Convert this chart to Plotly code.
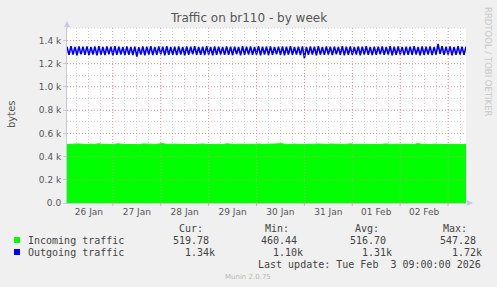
import pandas as pd
import plotly.graph_objects as go

# ---------------- data ----------------
start_time = "2026-01-26 01:00"
end_time = "2026-02-03 09:00"

outgoing = [
    1347, 1276, 1351, 1279, 1345, 1273, 1349, 1281, 1346, 1277,
    1350, 1274, 1344, 1280, 1348, 1272, 1352, 1278, 1345, 1275,
    1349, 1282, 1346, 1273, 1351, 1277, 1347, 1279, 1344, 1274,
    1350, 1278, 1345, 1275, 1348, 1262, 1343, 1280, 1349, 1273,
    1346, 1279, 1352, 1274, 1345, 1277, 1349, 1281, 1347, 1272,
    1351, 1276, 1344, 1278, 1348, 1274, 1350, 1280, 1345, 1273,
    1349, 1277, 1346, 1281, 1351, 1276, 1344, 1278, 1348, 1274,
    1352, 1279, 1345, 1273, 1349, 1277, 1347, 1280, 1344, 1276,
    1350, 1278, 1346, 1274, 1348, 1281, 1345, 1272, 1351, 1277,
    1347, 1279, 1349, 1276, 1344, 1278, 1352, 1273, 1346, 1280,
    1348, 1274, 1350, 1277, 1345, 1281, 1347, 1276, 1349, 1273,
    1346, 1278, 1351, 1276, 1344, 1279, 1348, 1274, 1350, 1248,
    1345, 1277, 1349, 1280, 1347, 1273, 1352, 1278, 1344, 1276,
    1350, 1279, 1346, 1274, 1348, 1281, 1345, 1277, 1351, 1272,
    1347, 1278, 1349, 1276, 1344, 1280, 1350, 1273, 1346, 1279,
    1352, 1277, 1345, 1274, 1348, 1278, 1347, 1281, 1349, 1276,
    1344, 1279, 1351, 1273, 1346, 1277, 1350, 1280, 1345, 1274,
    1348, 1278, 1347, 1276, 1352, 1279, 1344, 1273, 1349, 1277,
    1346, 1280, 1350, 1274, 1345, 1278, 1372, 1284, 1351, 1276,
    1347, 1279, 1349, 1273, 1345, 1277, 1351, 1278, 1346, 1276,
    1348,
]

incoming = [
    505, 507, 504, 509, 506, 503, 508, 505, 511, 504,
    506, 503, 507, 510, 505, 504, 508, 506, 503, 509,
    505, 507, 504, 506, 512, 505, 503, 507, 506, 504,
    508, 505, 503, 506, 509, 504, 507, 505, 506, 503,
    510, 505, 504, 507, 506, 508, 503, 505, 509, 504,
    506, 507, 504, 505, 511, 503, 506, 508, 505, 504,
    507, 503, 506, 509, 505, 504, 508, 506, 503, 507,
    505, 510, 504, 506, 505, 503, 508, 507, 504, 506,
    509, 505, 503, 507, 506, 504, 508, 505, 512, 504,
    506, 503, 507, 505, 509, 504, 506, 508, 505, 503,
    507,
]

y_tick_vals = [0, 200, 400, 600, 800, 1000, 1200, 1400]
y_tick_text = ["0.0", "0.2 k", "0.4 k", "0.6 k", "0.8 k", "1.0 k", "1.2 k", "1.4 k"]
x_label_days = ["2026-01-26", "2026-01-27", "2026-01-28", "2026-01-29",
                "2026-01-30", "2026-01-31", "2026-02-01", "2026-02-02"]
x_tick_text = ["26 Jan", "27 Jan", "28 Jan", "29 Jan", "30 Jan", "31 Jan", "01 Feb", "02 Feb"]

series_names = ["Incoming traffic", "Outgoing traffic"]
series_colors = ["#00FF00", "#0000FF"]
stat_headers = ["Cur:", "Min:", "Avg:", "Max:"]
stat_incoming = ["519.78", "460.44", "516.70", "547.28"]
stat_outgoing = ["1.34k", "1.10k", "1.31k", "1.72k"]
last_update = "Last update: Tue Feb  3 09:00:00 2026"

# ---------------- figure ----------------
t_out = pd.date_range(start_time, end_time, periods=len(outgoing))
t_in = pd.date_range(start_time, end_time, periods=len(incoming))

W, H = 497, 287
PL, PR, PT, PB = 67, 466, 28, 203  # plot area in pixels


def px(x):
    return (x - PL) / (PR - PL)


def py(y):
    return (PB - y) / (PB - PT)


fig = go.Figure()
fig.add_trace(go.Scatter(x=t_in, y=incoming, mode="lines", fill="tozeroy",
                         fillcolor=series_colors[0], line=dict(color=series_colors[0], width=1),
                         name=series_names[0], showlegend=False, hoverinfo="skip"))
fig.add_trace(go.Scatter(x=t_out, y=outgoing, mode="lines",
                         line=dict(color=series_colors[1], width=1.6),
                         name=series_names[1], showlegend=False, hoverinfo="skip"))

red_grid = "rgba(225,140,140,0.7)"
gray_grid = "rgba(190,190,190,0.7)"
dots = "1px,2px"

noon = [pd.Timestamp(d) + pd.Timedelta(hours=12) for d in x_label_days]

fig.update_xaxes(
    range=[pd.Timestamp(start_time), pd.Timestamp(end_time)],
    tickmode="array", tickvals=noon, ticktext=x_tick_text,
    showgrid=False, ticks="", showline=True, linecolor="#c8c8dc", linewidth=1,
    tickfont=dict(family="DejaVu Sans", size=9, color="#555555"),
    minor=dict(tick0="2026-01-26", dtick=6 * 3600 * 1000, showgrid=True,
               gridcolor=gray_grid, griddash=dots, gridwidth=1, ticks=""),
    zeroline=False, fixedrange=True,
)
fig.update_yaxes(
    range=[0, 1508], tickmode="array", tickvals=y_tick_vals, ticktext=y_tick_text,
    showgrid=False,
    ticks="outside", ticklen=3, tickcolor="#c8c8dc",
    showline=True, linecolor="#c8c8dc", linewidth=1,
    tickfont=dict(family="DejaVu Sans", size=9, color="#555555"),
    minor=dict(tick0=0, dtick=100, showgrid=True, gridcolor=gray_grid, griddash=dots, gridwidth=1),
    zeroline=False, fixedrange=True,
)

shapes = []
# midnight red dotted grid lines (drawn on top, as rrdtool does)
for d in pd.date_range("2026-01-27", "2026-02-03", freq="D"):
    shapes.append(dict(type="line", xref="x", yref="paper", x0=d, x1=d, y0=0, y1=1,
                       line=dict(color=red_grid, width=1, dash=dots), layer="above"))
    shapes.append(dict(type="line", xref="x", yref="paper", x0=d, x1=d, y0=0, y1=py(PB + 3),
                       line=dict(color=red_grid, width=1), layer="above"))
# major horizontal red dotted grid lines
for v in y_tick_vals[1:]:
    shapes.append(dict(type="line", xref="paper", yref="y", x0=0, x1=1, y0=v, y1=v,
                       line=dict(color=red_grid, width=1, dash=dots), layer="above"))
# top border dotted line
shapes.append(dict(type="line", xref="paper", yref="paper", x0=0, x1=1, y0=1, y1=1,
                   line=dict(color=gray_grid, width=1, dash=dots), layer="below"))
# axis arrows
shapes.append(dict(type="path", xref="paper", yref="paper",
                   path=f"M {px(PL-3)} {py(PT-1)} L {px(PL+3)} {py(PT-1)} L {px(PL)} {py(PT-7)} Z",
                   fillcolor="#c8c8e8", line=dict(width=0)))
shapes.append(dict(type="line", xref="paper", yref="paper", x0=0, x1=0, y0=1, y1=py(PT - 2),
                   line=dict(color="#c8c8dc", width=1)))
shapes.append(dict(type="path", xref="paper", yref="paper",
                   path=f"M {px(PR+1)} {py(PB-3)} L {px(PR+1)} {py(PB+3)} L {px(PR+7)} {py(PB)} Z",
                   fillcolor="#c8c8e8", line=dict(width=0)))
# legend squares
for i, c in enumerate(series_colors):
    yc = 240 + i * 12
    shapes.append(dict(type="rect", xref="paper", yref="paper",
                       x0=px(14), x1=px(20), y0=py(yc + 3), y1=py(yc - 3),
                       fillcolor=c, line=dict(width=0)))

mono = dict(family="DejaVu Sans Mono", size=10, color="#444444")
ann = []


def text(x, y, s, anchor="left", font=mono, angle=0):
    ann.append(dict(xref="paper", yref="paper", x=px(x), y=py(y), text=s, showarrow=False,
                    xanchor=anchor, yanchor="middle", font=font, textangle=angle))


text(248, 18, "Traffic on br110 - by week", anchor="center",
     font=dict(family="DejaVu Sans", size=12, color="#555555"))
text(11, 114, "bytes", anchor="center", font=dict(family="DejaVu Sans", size=10, color="#555555"),
     angle=-90)
text(488, 62, "RRDTOOL / TOBI OETIKER", anchor="center",
     font=dict(family="DejaVu Sans", size=8.5, color="#c8c8c8"), angle=90)

for i, name in enumerate(series_names):
    text(26, 240 + i * 12, name)

header_right = [205, 291, 381, 469]
row1_right = [211, 299, 388, 478]
row2_right = [217, 305, 394, 484]
for j in range(4):
    text(header_right[j], 228, stat_headers[j], anchor="right")
    text(row1_right[j], 240, stat_incoming[j], anchor="right")
    text(row2_right[j], 252, stat_outgoing[j], anchor="right")
text(483, 264, last_update, anchor="right")
text(248, 277, "Munin 2.0.75", anchor="center",
     font=dict(family="DejaVu Sans", size=7, color="#b8b8b8"))

fig.update_layout(
    width=W, height=H, autosize=False,
    margin=dict(l=PL, r=W - PR, t=PT, b=H - PB),
    paper_bgcolor="#F0F0F0", plot_bgcolor="#FFFFFF",
    shapes=shapes, annotations=ann, showlegend=False,
)

fig.write_html("out.html", config={"displayModeBar": False})
